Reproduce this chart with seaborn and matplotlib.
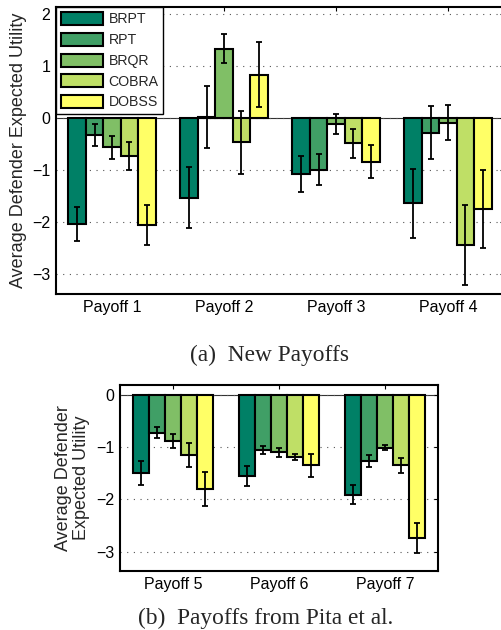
import matplotlib
matplotlib.use('Agg')
from matplotlib import pyplot as plt
import pandas as pd
import seaborn as sns

methods = ['BRPT', 'RPT', 'BRQR', 'COBRA', 'DOBSS']
# MATLAB "summer" colormap sampled at 5 points
colors = [(0.0, 0.5, 0.4), (0.25, 0.625, 0.4), (0.5, 0.75, 0.4), (0.75, 0.875, 0.4), (1.0, 1.0, 0.4)]

# (a) New payoffs
new_payoffs = ['Payoff 1', 'Payoff 2', 'Payoff 3', 'Payoff 4']
new_brpt = [-2.04, -1.53, -1.08, -1.64]
new_rpt = [-0.33, 0.02, -0.99, -0.28]
new_brqr = [-0.56, 1.33, -0.12, -0.09]
new_cobra = [-0.73, -0.47, -0.49, -2.44]
new_dobss = [-2.06, 0.83, -0.84, -1.74]
new_brpt_err = [0.33, 0.59, 0.35, 0.66]
new_rpt_err = [0.21, 0.59, 0.30, 0.50]
new_brqr_err = [0.22, 0.28, 0.19, 0.34]
new_cobra_err = [0.27, 0.60, 0.27, 0.76]
new_dobss_err = [0.38, 0.62, 0.32, 0.75]

# (b) Payoffs from Pita et al.
pita_payoffs = ['Payoff 5', 'Payoff 6', 'Payoff 7']
pita_brpt = [-1.49, -1.55, -1.91]
pita_rpt = [-0.72, -1.05, -1.26]
pita_brqr = [-0.88, -1.10, -1.01]
pita_cobra = [-1.15, -1.19, -1.35]
pita_dobss = [-1.80, -1.35, -2.74]
pita_brpt_err = [0.23, 0.19, 0.18]
pita_rpt_err = [0.10, 0.08, 0.11]
pita_brqr_err = [0.14, 0.09, 0.05]
pita_cobra_err = [0.23, 0.06, 0.14]
pita_dobss_err = [0.32, 0.22, 0.28]


def build_frame(payoffs, values, errors):
    rows = []
    for m, vals, errs in zip(methods, values, errors):
        for p, v, e in zip(payoffs, vals, errs):
            rows.append({'payoff': p, 'method': m, 'value': v, 'err': e})
    return pd.DataFrame(rows)


def draw_panel(ax, df, payoffs, width, ylim, yticks):
    ax.axhline(0, color='#333333', lw=0.8, zorder=0.5)
    sns.barplot(data=df, x='payoff', y='value', hue='method', order=payoffs,
                hue_order=methods, palette=colors, saturation=1, errorbar=None,
                width=width, edgecolor='black', linewidth=1.5, legend=False,
                ax=ax, zorder=2)
    # error bars at the bar centres
    for m, cont in zip(methods, ax.containers):
        sub = df[df['method'] == m].set_index('payoff').loc[payoffs]
        xs = [b.get_x() + b.get_width() / 2 for b in cont]
        ys = [b.get_y() + b.get_height() for b in cont]
        ax.errorbar(xs, ys, yerr=sub['err'].values, fmt='none', ecolor='black',
                    elinewidth=1.3, capsize=2.3, capthick=1.3, zorder=3)
    ax.set_xlim(-0.5, len(payoffs) - 0.5)
    ax.set_ylim(*ylim)
    ax.set_yticks(yticks)
    ax.set_yticklabels([str(t).replace('-', '\u2212') for t in yticks])
    ax.set_xlabel('')
    ax.yaxis.grid(True, linestyle=(0, (1, 5)), color='#555555', lw=0.8)
    ax.xaxis.grid(False)
    ax.set_axisbelow(True)
    for s in ax.spines.values():
        s.set_visible(True)
        s.set_linewidth(1.5)
        s.set_color('black')
    ax.tick_params(direction='in', length=3, width=0.8, top=True, right=True,
                   labelsize=11.5, pad=4, colors='black')


sns.set_style('white')
plt.rcParams['font.family'] = ['Liberation Sans', 'DejaVu Sans']

fig = plt.figure(figsize=(5.01, 6.30), dpi=100)

ax1 = fig.add_axes([56 / 501, 1 - 294 / 630, 448 / 501, 287 / 630])
df_new = build_frame(new_payoffs,
                     [new_brpt, new_rpt, new_brqr, new_cobra, new_dobss],
                     [new_brpt_err, new_rpt_err, new_brqr_err, new_cobra_err, new_dobss_err])
draw_panel(ax1, df_new, new_payoffs, 0.78, (-3.38, 2.13), [-3, -2, -1, 0, 1, 2])
ax1.set_ylabel('Average Defender Expected Utility', fontsize=13)
ax1.yaxis.set_label_coords(-0.065, 0.5)
leg = ax1.legend(handles=ax1.containers, labels=methods, loc='upper left',
                 borderaxespad=0, fancybox=False, framealpha=1, edgecolor='black',
                 fontsize=10.2, handlelength=3.0, handleheight=1.05, labelspacing=0.45,
                 handletextpad=0.35, borderpad=0.35)
leg.get_frame().set_linewidth(1.0)
leg.set_zorder(5)

ax2 = fig.add_axes([120 / 501, 1 - 571 / 630, 318 / 501, 186 / 630])
df_pita = build_frame(pita_payoffs,
                      [pita_brpt, pita_rpt, pita_brqr, pita_cobra, pita_dobss],
                      [pita_brpt_err, pita_rpt_err, pita_brqr_err, pita_cobra_err, pita_dobss_err])
draw_panel(ax2, df_pita, pita_payoffs, 0.76, (-3.37, 0.19), [-3, -2, -1, 0])
ax2.set_ylabel('Average Defender\nExpected Utility', fontsize=13, linespacing=1.05)
ax2.yaxis.set_label_coords(-0.094, 0.5)

fig.text(270 / 501, 1 - 355 / 630, '(a)  New Payoffs', family='Liberation Serif',
         fontsize=16.8, ha='center', va='center')
fig.text(266 / 501, 1 - 618 / 630, '(b)  Payoffs from Pita et al.', family='Liberation Serif',
         fontsize=16.8, ha='center', va='center')

fig.savefig('out.png', dpi=100)
